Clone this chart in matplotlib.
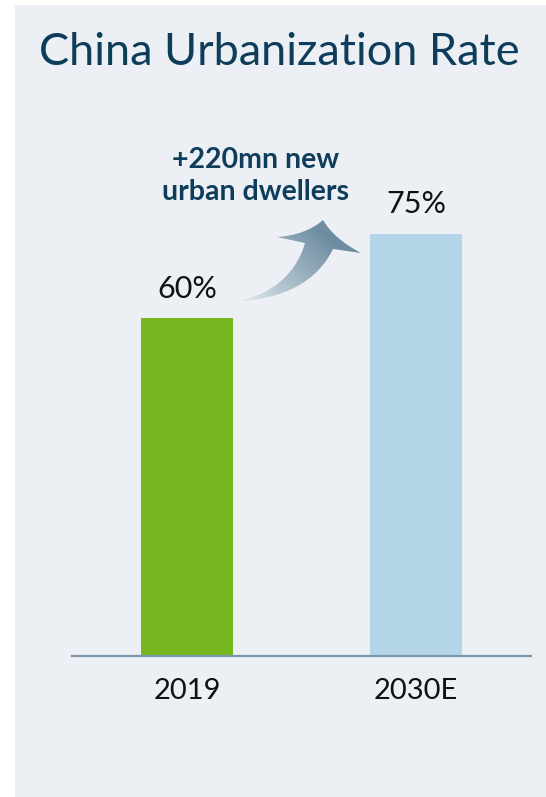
import numpy as np
import matplotlib
matplotlib.use("Agg")
import matplotlib.pyplot as plt
from matplotlib.path import Path
from matplotlib.patches import PathPatch
from matplotlib.colors import LinearSegmentedColormap

years = ["2019", "2030E"]
rates = [60, 75]
rate_labels = ["60%", "75%"]
bar_colors = ["#76B61E", "#B4D4E8"]

title = "China Urbanization Rate"
note = "+220mn new\nurban dwellers"

panel_color = "#ECEFF3"
navy = "#0E3D5B"
W, H = 546, 797

plt.rcParams["font.family"] = ["Lato", "DejaVu Sans"]

fig = plt.figure(figsize=(W / 100, H / 100), dpi=100)
fig.patch.set_facecolor("white")

# grey panel behind everything
bg = fig.add_axes([15 / W, 0, 1 - 15 / W, 792 / H], zorder=0)
bg.set_facecolor(panel_color)
bg.set_xticks([])
bg.set_yticks([])
for s in bg.spines.values():
    s.set_visible(False)

# main bar chart
ax = fig.add_axes([72 / W, (H - 656) / H, 459 / W, 563 / H], zorder=1)
ax.patch.set_alpha(0)
x = np.arange(len(years))
bars = ax.bar(x, rates, width=0.40, color=bar_colors)
ax.set_xlim(-0.502, 1.502)
ax.set_ylim(0, 100)
for b, lab in zip(bars, rate_labels):
    ax.annotate(lab, (b.get_x() + b.get_width() / 2, b.get_height()),
                xytext=(0, 11), textcoords="offset points",
                ha="center", va="bottom", fontsize=22, color="#111111")
ax.set_xticks(x)
ax.set_xticklabels(years, fontsize=21, color="#111111")
ax.tick_params(axis="x", length=0, pad=16)
ax.set_yticks([])
for side in ["top", "right", "left"]:
    ax.spines[side].set_visible(False)
ax.spines["bottom"].set_color("#7C96A8")
ax.spines["bottom"].set_linewidth(1.6)

# overlay in pixel coords for title, note and arrow
ov = fig.add_axes([0, 0, 1, 1], zorder=3)
ov.patch.set_alpha(0)
ov.set_xlim(0, W)
ov.set_ylim(H, 0)
ov.axis("off")

ov.text(279, 52, title, ha="center", va="center", fontsize=32.5, color=navy)
ov.text(256, 176, note, ha="center", va="center", fontsize=20.5,
        fontweight="bold", color=navy, linespacing=1.25)

# curved gradient arrow
verts = [
    (235, 301),
    (285, 300), (318, 280), (333, 249),
    (361, 253),
    (342, 243), (330, 232), (323, 220),
    (312, 230), (295, 236), (277, 237),
    (305, 243),
    (296, 276), (266, 298), (235, 301),
]
codes = [Path.MOVETO,
         Path.CURVE4, Path.CURVE4, Path.CURVE4,
         Path.LINETO,
         Path.CURVE4, Path.CURVE4, Path.CURVE4,
         Path.CURVE4, Path.CURVE4, Path.CURVE4,
         Path.LINETO,
         Path.CURVE4, Path.CURVE4, Path.CURVE4]
arrow = PathPatch(Path(verts, codes), facecolor="none", edgecolor="none")
ov.add_patch(arrow)

gx, gy = np.meshgrid(np.linspace(225, 370, 200), np.linspace(210, 310, 150))
t = ((gx - 235) * 0.7 + (301 - gy) * 0.7) / 110
t = np.clip(t, 0, 1)
cmap = LinearSegmentedColormap.from_list("arr", ["#E4EAEF", "#A7BAC7", "#6E8DA2"])
im = ov.imshow(t, extent=(225, 370, 310, 210), cmap=cmap, vmin=0, vmax=1,
               origin="upper", interpolation="bilinear", aspect="auto")
im.set_clip_path(arrow)
ov.set_xlim(0, W)
ov.set_ylim(H, 0)

fig.savefig("out.png", dpi=100)
